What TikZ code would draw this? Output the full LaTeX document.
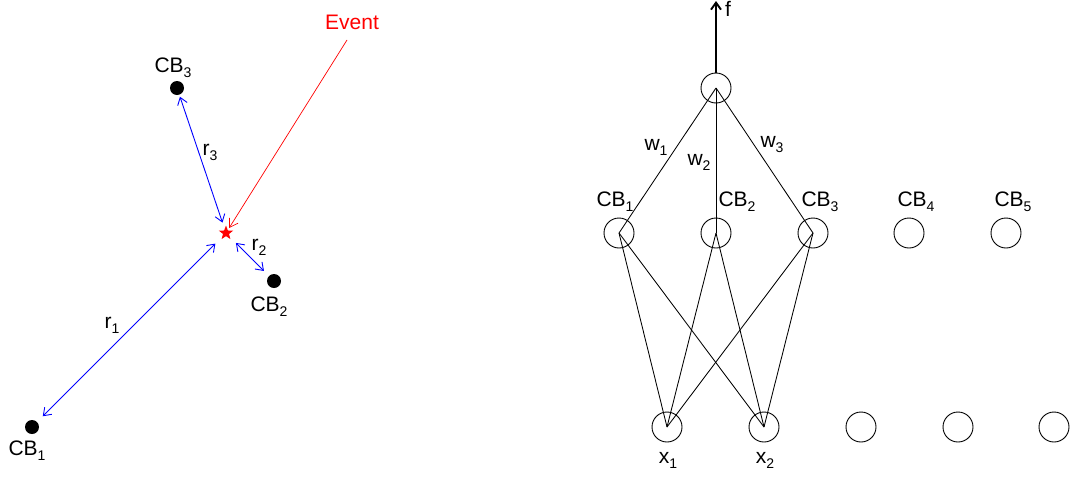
\documentclass[tikz,border=0pt]{standalone}
\usepackage{fontspec}
\setmainfont{Liberation Sans}
\usetikzlibrary{arrows.meta,shapes.geometric}
\newcommand{\lowsub}[1]{\raisebox{-0.45ex}{\fontsize{14}{14}\selectfont #1}}
\begin{document}
\begin{tikzpicture}[x=1pt,y=-1pt,
  lbl/.style={font=\fontsize{21}{23}\selectfont, inner sep=0pt},
  dot/.style={circle, fill=black, minimum size=14pt, inner sep=0pt},
  neuron/.style={circle, draw=black, line width=0.9pt, minimum size=30pt, inner sep=0pt},
  link/.style={draw=black, line width=0.85pt},
  rarrow/.style={draw=blue, line width=0.9pt, {Straight Barb[length=7pt,width=10pt]}-{Straight Barb[length=7pt,width=10pt]}},
  evarrow/.style={draw=red, line width=0.7pt, -{Straight Barb[length=8pt,width=10pt]}},
  farrow/.style={draw=black, line width=1.9pt, -{Straight Barb[length=7pt,width=10pt]}}]
\useasboundingbox (0,0) rectangle (1071,477);
% ---------- left panel ----------
\node[dot] (d1) at (32,427) {};
\node[dot] (d2) at (274,281) {};
\node[dot] (d3) at (177,88) {};
\node[star, star points=5, star point ratio=2.4, fill=red, minimum size=15pt, inner sep=0pt] (st) at (226,233) {};
\node[lbl] (l1) at (27,451) {CB\lowsub{1}};
\node[lbl] (l2) at (269,307) {CB\lowsub{2}};
\node[lbl] (l3) at (173,68) {CB\lowsub{3}};
\node[lbl, text=red] (ev) at (352,22) {Event};
\draw[rarrow, shorten <=2pt, shorten >=11pt] (d3) -- (st.center);
\draw[rarrow, shorten <=7pt, shorten >=14pt] (d2) -- (st.center);
\draw[rarrow, shorten <=8pt, shorten >=15pt] (d1) -- (st.center);
\coordinate (evs) at (347,40);
\draw[evarrow, shorten >=6pt] (evs) -- (st.center);
\node[lbl] (r1) at (112,325) {r\lowsub{1}};
\node[lbl] (r2) at (259,247) {r\lowsub{2}};
\node[lbl] (r3) at (210,152) {r\lowsub{3}};
% ---------- right panel ----------
\node[neuron] (top) at (716,88) {};
\node[neuron] (c1) at (619,233) {};
\node[neuron] (c2) at (716,233) {};
\node[neuron] (c3) at (813,233) {};
\node[neuron] (c4) at (909,233) {};
\node[neuron] (c5) at (1006,233) {};
\node[neuron] (x1) at (667,427) {};
\node[neuron] (x2) at (764,427) {};
\node[neuron] (x3) at (861,427) {};
\node[neuron] (x4) at (958,427) {};
\node[neuron] (x5) at (1054,427) {};
\node[lbl] (lc1) at (615,202) {CB\lowsub{1}};
\node[lbl] (lc2) at (737,202) {CB\lowsub{2}};
\node[lbl] (lc3) at (820,202) {CB\lowsub{3}};
\node[lbl] (lc4) at (916,202) {CB\lowsub{4}};
\node[lbl] (lc5) at (1013,202) {CB\lowsub{5}};
\node[lbl] (lx1) at (668,460) {x\lowsub{1}};
\node[lbl] (lx2) at (765,460) {x\lowsub{2}};
\node[lbl] (w1) at (656,147) {w\lowsub{1}};
\node[lbl] (w2) at (699,162) {w\lowsub{2}};
\node[lbl] (w3) at (772,145) {w\lowsub{3}};
\node[lbl] (f) at (728,9) {f};
\coordinate (ftop) at (716,1);
\draw[farrow] (top.north) -- (ftop);
\foreach \c in {c1,c2,c3} {
  \draw[link] (top.center) -- (\c.center);
  \draw[link] (x1.center) -- (\c.center);
  \draw[link] (x2.center) -- (\c.center);
}
\end{tikzpicture}
\end{document}
